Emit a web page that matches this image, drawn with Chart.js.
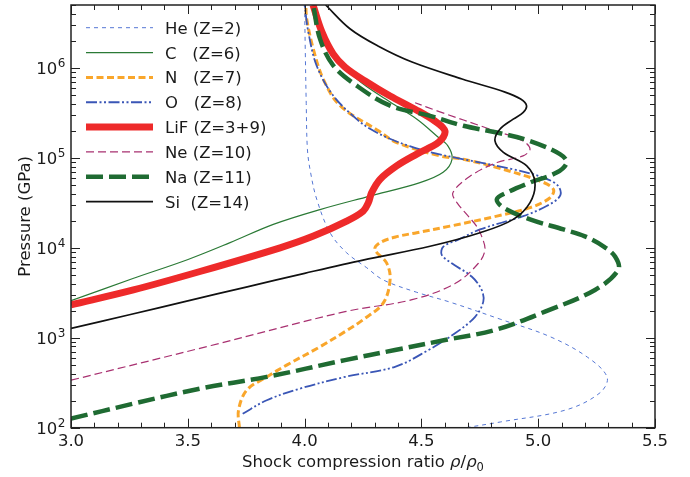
<!DOCTYPE html>
<html>
<head>
<meta charset="utf-8">
<script src="https://cdn.jsdelivr.net/npm/chart.js@4.4.1/dist/chart.umd.min.js"></script>
<style>
    html, body { margin: 0; padding: 0; background: #fff; }
    canvas { display: block; }
</style>
</head>
<body>
<canvas id="hugoniotChart" width="690" height="477"></canvas>
<script>
// 各元素的冲击 Hugoniot 曲线 (压缩比 ρ/ρ0, 压力 GPa)
const seriesNames = ['He (Z=2)', 'C   (Z=6)', 'N   (Z=7)', 'O   (Z=8)', 'LiF (Z=3+9)', 'Ne (Z=10)', 'Na (Z=11)', 'Si  (Z=14)'];

const heX = [4.000, 4.003, 4.007, 4.012, 4.025, 4.052, 4.109, 4.180, 4.266, 4.336, 4.480, 4.620, 4.840, 5.050, 5.210, 5.295, 5.265, 5.120, 4.840, 4.690];
const heP = [5.0e6, 1.5e6, 4.0e5, 1.25e5, 7.0e4, 3.46e4, 1.47e4, 8.8e3, 6.0e3, 4.4e3, 3.2e3, 2.5e3, 1.6e3, 1.03e3, 610, 365, 245, 158, 116, 100];

const cX = [3.000, 3.265, 3.501, 3.681, 3.866, 4.066, 4.280, 4.494, 4.593, 4.631, 4.614, 4.567, 4.481, 4.366, 4.224, 4.139, 4.079, 4.045];
const cP = [2580, 4550, 7410, 1.14e4, 1.82e4, 2.66e4, 3.76e4, 5.31e4, 6.92e4, 9.64e4, 1.35e5, 1.74e5, 2.69e5, 4.17e5, 7.51e5, 1.36e6, 2.51e6, 5.0e6];

const nX = [3.721, 3.717, 3.752, 3.838, 3.923, 4.066, 4.173, 4.251, 4.337, 4.366, 4.351, 4.301, 4.323, 4.394, 4.480, 4.622, 4.823, 4.965, 5.051, 5.065, 5.008, 4.823, 4.680, 4.580, 4.394, 4.316, 4.152, 4.080, 4.037, 4.009, 4.005];
const nP = [100, 156, 261, 367, 496, 794, 1170, 1590, 2440, 4440, 6800, 9570, 1.14e4, 1.33e4, 1.47e4, 1.74e4, 2.25e4, 2.79e4, 3.6e4, 4.47e4, 5.52e4, 7.8e4, 9.64e4, 1.05e5, 1.48e5, 2.0e5, 3.8e5, 7.5e5, 1.63e6, 3.5e6, 5.0e6];

const oX = [3.735, 3.838, 3.980, 4.173, 4.387, 4.530, 4.644, 4.730, 4.765, 4.758, 4.715, 4.630, 4.587, 4.594, 4.658, 4.751, 4.936, 5.036, 5.093, 5.086, 5.022, 4.893, 4.680, 4.560, 4.450, 4.360, 4.280, 4.223, 4.123, 4.052, 4.016, 4.000];
const oP = [143, 202, 272, 367, 475, 730, 1120, 1710, 2520, 3400, 4790, 6730, 8360, 1.03e4, 1.23e4, 1.6e4, 2.25e4, 2.91e4, 3.76e4, 4.86e4, 6.03e4, 7.46e4, 9.64e4, 1.12e5, 1.35e5, 1.65e5, 2.1e5, 2.69e5, 4.9e5, 1.05e6, 2.5e6, 5.0e6];

const lifX = [3.000, 3.267, 3.552, 3.895, 4.038, 4.180, 4.251, 4.273, 4.287, 4.323, 4.394, 4.480, 4.575, 4.601, 4.558, 4.473, 4.366, 4.259, 4.173, 4.122, 4.074, 4.036];
const lifP = [2320, 3400, 5450, 1.0e4, 1.35e4, 1.98e4, 2.56e4, 3.18e4, 4.1e4, 5.77e4, 8.13e4, 1.1e5, 1.5e5, 1.98e5, 2.56e5, 3.47e5, 4.86e5, 7.14e5, 1.02e6, 1.43e6, 2.51e6, 5.0e6];

const neX = [3.000, 3.600, 4.173, 4.460, 4.644, 4.744, 4.772, 4.758, 4.737, 4.652, 4.635, 4.708, 4.824, 4.935, 4.965, 4.935, 4.794, 4.567, 4.473];
const neP = [337, 820, 1950, 2650, 4000, 6730, 9500, 1.34e4, 1.73e4, 3.18e4, 4.1e4, 6.24e4, 8.87e4, 1.05e5, 1.25e5, 1.54e5, 2.08e5, 3.33e5, 4.1e5];

const naX = [3.000, 3.267, 3.552, 3.838, 4.173, 4.387, 4.601, 4.815, 5.029, 5.243, 5.343, 5.329, 5.279, 5.200, 5.108, 4.965, 4.851, 4.823, 4.865, 4.965, 5.079, 5.122, 5.093, 4.965, 4.823, 4.680, 4.537, 4.366, 4.223, 4.123, 4.066, 4.037];
const naP = [126, 185, 272, 367, 564, 730, 942, 1220, 1950, 3400, 5690, 8000, 1.04e4, 1.34e4, 1.6e4, 2.07e4, 2.79e4, 3.46e4, 4.1e4, 5.31e4, 6.86e4, 8.87e4, 1.1e5, 1.54e5, 1.91e5, 2.27e5, 2.93e5, 3.8e5, 6.34e5, 1.06e6, 2.1e6, 5.0e6];

const siX = [3.000, 3.250, 3.500, 3.750, 4.000, 4.250, 4.537, 4.751, 4.893, 4.965, 4.986, 4.951, 4.851, 4.815, 4.836, 4.893, 4.936, 4.950, 4.925, 4.858, 4.674, 4.460, 4.314, 4.194, 4.090];
const siP = [1270, 1800, 2570, 3660, 5200, 7300, 1.04e4, 1.47e4, 2.07e4, 3.18e4, 5.31e4, 8.13e4, 1.15e5, 1.54e5, 2.08e5, 2.69e5, 3.2e5, 3.8e5, 4.5e5, 5.38e5, 7.52e5, 1.16e6, 1.75e6, 2.72e6, 5.0e6];

const xTicks = [3.0, 3.5, 4.0, 4.5, 5.0, 5.5];
const yDecades = [2, 3, 4, 5, 6];

// 样式 (颜色, 线宽, 虚线)
const FONT = '"DejaVu Sans", sans-serif';
const TEXT_COLOR = '#1a1a1a';
const lineColors = ['#5577d4', '#2b7a36', '#f9a62b', '#3a56b6', '#ee2a2a', '#a83070', '#1f6b32', '#111111'];
const lineWidths = [1, 1.2, 3, 1.8, 7, 1.2, 4.5, 1.7];
const lineDashes = [[4, 4], [], [7, 3.5], [11, 2.5, 2, 2.5, 2, 2.5], [], [8, 4], [17, 6], []];

const allX = [heX, cX, nX, oX, lifX, neX, naX, siX];
const allP = [heP, cP, nP, oP, lifP, neP, naP, siP];

function toPoints(xs, ps) {
    return xs.map((x, i) => ({ x: x, y: ps[i] }));
}

const datasets = seriesNames.map((name, i) => ({
    label: name,
    data: toPoints(allX[i], allP[i]),
    showLine: true,
    borderColor: lineColors[i],
    backgroundColor: lineColors[i],
    borderWidth: lineWidths[i],
    borderDash: lineDashes[i],
    borderJoinStyle: 'round',
    pointRadius: 0,
    tension: 0.35,
    fill: false,
    clip: 0,
    order: seriesNames.length - i   // 后画的在上层, 与原图一致
}));

// 坐标框, 内向刻度, 对数轴标签, 轴标题和图例
const decorPlugin = {
    id: 'decor',
    afterDatasetsDraw(chart) {
        const { ctx, chartArea: a, scales: { x, y } } = chart;
        ctx.save();
        ctx.strokeStyle = '#222';
        ctx.lineWidth = 1;
        ctx.setLineDash([]);

        // x 轴刻度 (主 0.5, 次 0.1)
        for (let v = 30; v <= 55; v++) {
            const px = Math.round(x.getPixelForValue(v / 10)) + 0.5;
            const len = v % 5 === 0 ? 9 : 5;
            ctx.beginPath();
            ctx.moveTo(px, a.bottom);
            ctx.lineTo(px, a.bottom - len);
            ctx.moveTo(px, a.top);
            ctx.lineTo(px, a.top + len);
            ctx.stroke();
        }

        // y 轴刻度 (对数)
        yDecades.forEach(e => {
            for (let m = 1; m <= 9; m++) {
                const v = m * Math.pow(10, e);
                if (v > y.max) break;
                const py = Math.round(y.getPixelForValue(v)) + 0.5;
                const len = m === 1 ? 9 : 5;
                ctx.beginPath();
                ctx.moveTo(a.left, py);
                ctx.lineTo(a.left + len, py);
                ctx.moveTo(a.right, py);
                ctx.lineTo(a.right - len, py);
                ctx.stroke();
            }
        });

        ctx.lineWidth = 1.5;
        ctx.strokeRect(a.left, a.top, a.right - a.left, a.bottom - a.top);
        ctx.restore();
    },
    afterDraw(chart) {
        const { ctx, chartArea: a, scales: { y } } = chart;
        ctx.save();
        ctx.fillStyle = TEXT_COLOR;
        ctx.textBaseline = 'alphabetic';

        // y 轴标签 10^n
        yDecades.forEach(e => {
            const py = y.getPixelForValue(Math.pow(10, e));
            const right = a.left - 5.5;
            ctx.textAlign = 'right';
            ctx.font = '12px ' + FONT;
            const ew = ctx.measureText(String(e)).width;
            ctx.fillText(String(e), right, py - 1);
            ctx.font = '16.5px ' + FONT;
            ctx.fillText('10', right - ew - 0.5, py + 6.5);
        });

        // x 轴标题
        const parts = [
            { t: 'Shock compression ratio ', f: '16.5px ' + FONT, dy: 0 },
            { t: 'ρ', f: 'italic 16.5px ' + FONT, dy: 0 },
            { t: '/', f: '16.5px ' + FONT, dy: 0 },
            { t: 'ρ', f: 'italic 16.5px ' + FONT, dy: 0 },
            { t: '0', f: '11.5px ' + FONT, dy: 3.5 }
        ];
        let total = 0;
        parts.forEach(p => { ctx.font = p.f; p.w = ctx.measureText(p.t).width; total += p.w; });
        let tx = (a.left + a.right) / 2 - total / 2;
        ctx.textAlign = 'left';
        parts.forEach(p => {
            ctx.font = p.f;
            ctx.fillText(p.t, tx, 467 + p.dy);
            tx += p.w;
        });

        // y 轴标题
        ctx.save();
        ctx.translate(30, (a.top + a.bottom) / 2);
        ctx.rotate(-Math.PI / 2);
        ctx.textAlign = 'center';
        ctx.font = '16.5px ' + FONT;
        ctx.fillText('Pressure (GPa)', 0, 0);
        ctx.restore();

        // 图例
        seriesNames.forEach((name, i) => {
            const ly = 27.7 + i * 24.85;
            ctx.beginPath();
            ctx.strokeStyle = lineColors[i];
            ctx.lineWidth = lineWidths[i];
            ctx.setLineDash(lineDashes[i]);
            ctx.moveTo(86, ly);
            ctx.lineTo(153, ly);
            ctx.stroke();
            ctx.setLineDash([]);
            ctx.fillStyle = TEXT_COLOR;
            ctx.font = '16.5px ' + FONT;
            ctx.textAlign = 'left';
            ctx.fillText(name, 165, ly + 6);
        });
        ctx.restore();
    }
};

new Chart(document.getElementById('hugoniotChart'), {
    type: 'scatter',
    data: { datasets: datasets },
    options: {
        responsive: false,
        animation: false,
        devicePixelRatio: 1,
        layout: { padding: { top: 5, right: 35, left: 0, bottom: 0 } },
        plugins: {
            legend: { display: false },
            tooltip: { enabled: false }
        },
        scales: {
            x: {
                type: 'linear',
                min: 3,
                max: 5.5,
                grid: { display: false, drawTicks: false },
                border: { display: false },
                afterBuildTicks(scale) {
                    scale.ticks = xTicks.map(v => ({ value: v }));
                },
                ticks: {
                    callback: v => v.toFixed(1),
                    font: { family: FONT, size: 16.5 },
                    color: TEXT_COLOR,
                    padding: 4,
                    maxRotation: 0,
                    autoSkip: false
                },
                afterFit(scale) { scale.height = 49.3; }
            },
            y: {
                type: 'logarithmic',
                min: 100,
                max: 5e6,
                grid: { display: false, drawTicks: false },
                border: { display: false },
                ticks: { display: false },
                afterFit(scale) { scale.width = 71; }
            }
        }
    },
    plugins: [decorPlugin]
});
</script>
</body>
</html>
